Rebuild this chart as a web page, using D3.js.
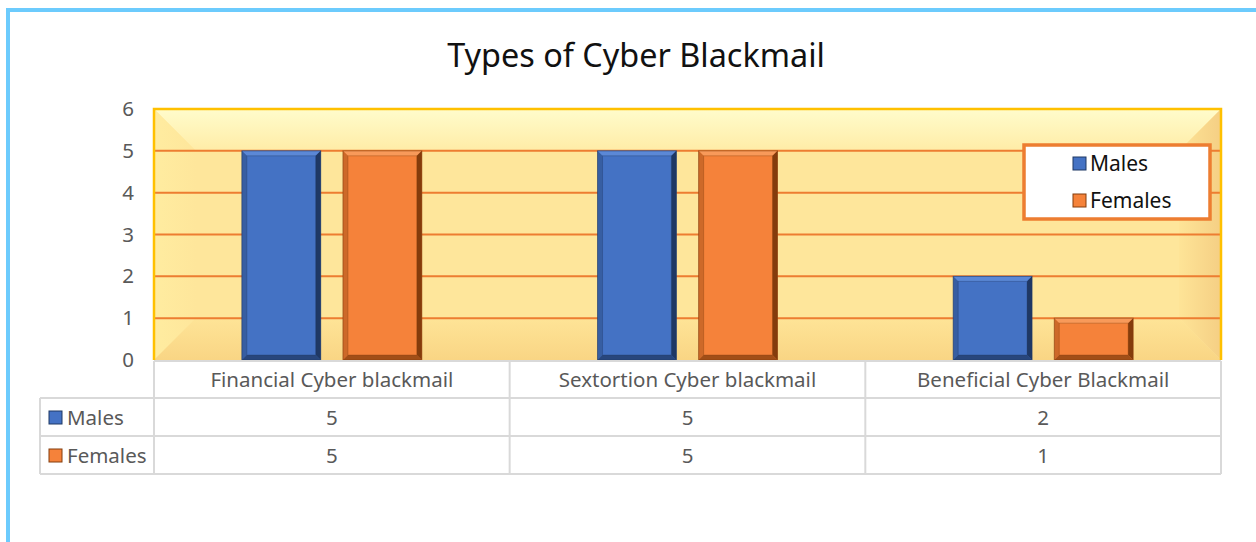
<!DOCTYPE html>
<html>
<head>
<meta charset="utf-8">
<script src="https://cdn.jsdelivr.net/npm/d3@7"></script>
<style>
  body { margin: 0; background: #fff; }
  text { font-family: "Noto Sans", "Open Sans", sans-serif; }
</style>
</head>
<body>
<div id="chart"></div>
<script>
// chart data
var categories = ["Financial Cyber blackmail", "Sextortion Cyber blackmail", "Beneficial Cyber Blackmail"];
var seriesNames = ["Males", "Females"];
var males = [5, 5, 2];
var females = [5, 5, 1];
var yTicks = [0, 1, 2, 3, 4, 5, 6];

var seriesValues = [males, females];
var colors = { Males: "#4472c4", Females: "#f5823a" };
var darks = { Males: "#1f3864", Females: "#843c0c" };
var lights = { Males: "#5b88d6", Females: "#f89a5a" };

var W = 1256, H = 542;
var plot = { left: 154, right: 1221, top: 109, bottom: 360 };
var rowH = [37, 38, 38];
var fs = 20.5;

var svg = d3.select("#chart").append("svg")
    .attr("width", W)
    .attr("height", H);

var defs = svg.append("defs");
function grad(id, x2, y2, stops) {
    var g = defs.append("linearGradient").attr("id", id)
        .attr("x1", 0).attr("y1", 0).attr("x2", x2).attr("y2", y2);
    stops.forEach(function(s) {
        g.append("stop").attr("offset", s[0]).attr("stop-color", s[1]);
    });
}
grad("topBand", 0, 1, [[0, "#fffccc"], [1, "#ffeca6"]]);
grad("leftBand", 1, 0, [[0, "#ffeca0"], [1, "#fee69b"]]);
grad("botBand", 0, 1, [[0, "#fee497"], [1, "#f9d584"]]);
grad("rightBand", 1, 0, [[0, "#fee497"], [1, "#f5cf84"]]);

// outer frame
svg.append("rect")
    .attr("x", 8).attr("y", 10)
    .attr("width", W + 20).attr("height", H + 20)
    .attr("fill", "none")
    .attr("stroke", "#6ccbfd")
    .attr("stroke-width", 4);

// title
svg.append("text")
    .attr("x", 636).attr("y", 67)
    .attr("text-anchor", "middle")
    .attr("font-size", 32.4)
    .attr("fill", "#111")
    .text("Types of Cyber Blackmail");

// scales
var y = d3.scaleLinear().domain([0, 6]).range([plot.bottom, plot.top]);
var x0 = d3.scaleBand().domain(categories).range([plot.left, plot.right]);
var groupW = x0.bandwidth() * 0.506;
var x1 = d3.scaleBand().domain(seriesNames).range([0, groupW]).paddingInner(0.22);

// plot background with bevelled frame
var pw = plot.right - plot.left, ph = plot.bottom - plot.top, bv = 42;
var bg = svg.append("g");
bg.append("rect").attr("x", plot.left).attr("y", plot.top)
    .attr("width", pw).attr("height", ph).attr("fill", "#fee69b");
function poly(pts, fill) {
    bg.append("polygon").attr("points", pts.map(function(p) { return p.join(","); }).join(" ")).attr("fill", fill);
}
var L = plot.left, R = plot.right, T = plot.top, B = plot.bottom;
poly([[L, T], [R, T], [R - bv, T + bv], [L + bv, T + bv]], "url(#topBand)");
poly([[L, T], [L + bv, T + bv], [L + bv, B - bv], [L, B]], "url(#leftBand)");
poly([[L, B], [L + bv, B - bv], [R - bv, B - bv], [R, B]], "url(#botBand)");
poly([[R, T], [R, B], [R - bv, B - bv], [R - bv, T + bv]], "url(#rightBand)");

// gridlines
svg.append("g").selectAll("line")
    .data(yTicks.filter(function(d) { return d > 0 && d < 6; }))
    .enter().append("line")
    .attr("x1", plot.left).attr("x2", plot.right)
    .attr("y1", function(d) { return y(d); })
    .attr("y2", function(d) { return y(d); })
    .attr("stroke", "#ed7d31")
    .attr("stroke-width", 2);

// plot border (top, left, right)
svg.append("path")
    .attr("d", "M" + L + "," + B + "V" + T + "H" + R + "V" + B)
    .attr("fill", "none")
    .attr("stroke", "#ffc000")
    .attr("stroke-width", 2.5);

// y tick labels
svg.append("g").selectAll("text")
    .data(yTicks)
    .enter().append("text")
    .attr("x", 134)
    .attr("y", function(d) { return y(d) + 7; })
    .attr("text-anchor", "end")
    .attr("font-size", fs)
    .attr("fill", "#595959")
    .text(function(d) { return d; });

// bars
var barData = [];
categories.forEach(function(c, i) {
    seriesNames.forEach(function(s, j) {
        barData.push({ cat: c, series: s, value: seriesValues[j][i] });
    });
});

function bevelBar(g, bx, by, bw, bh, s) {
    var e = 5;
    g.append("rect").attr("x", bx).attr("y", by).attr("width", bw).attr("height", bh)
        .attr("fill", colors[s]);
    var pts = function(a) { return a.map(function(p) { return p.join(","); }).join(" "); };
    var r = bx + bw, b = by + bh;
    g.append("polygon").attr("points", pts([[bx, by], [r, by], [r - e, by + e], [bx + e, by + e]]))
        .attr("fill", lights[s]);
    g.append("polygon").attr("points", pts([[bx, by], [bx + e, by + e], [bx + e, b - e], [bx, b]]))
        .attr("fill", darks[s]).attr("opacity", 0.35);
    g.append("polygon").attr("points", pts([[r, by], [r, b], [r - e, b - e], [r - e, by + e]]))
        .attr("fill", darks[s]);
    g.append("polygon").attr("points", pts([[bx, b], [bx + e, b - e], [r - e, b - e], [r, b]]))
        .attr("fill", darks[s]).attr("opacity", 0.75);
    g.append("rect").attr("x", bx + e).attr("y", by + e).attr("width", bw - 2 * e).attr("height", bh - 2 * e)
        .attr("fill", "none").attr("stroke", darks[s]).attr("stroke-opacity", 0.35).attr("stroke-width", 1);
    g.append("rect").attr("x", bx).attr("y", by).attr("width", bw).attr("height", bh)
        .attr("fill", "none").attr("stroke", darks[s]).attr("stroke-opacity", 0.6).attr("stroke-width", 1);
}

var barsG = svg.append("g");
barData.forEach(function(d) {
    var bx = x0(d.cat) + (x0.bandwidth() - groupW) / 2 + x1(d.series);
    var by = y(d.value);
    bevelBar(barsG, bx, by, x1.bandwidth(), y(0) - by, d.series);
});

// legend
var leg = svg.append("g");
leg.append("rect")
    .attr("x", 1024).attr("y", 145)
    .attr("width", 186).attr("height", 74)
    .attr("fill", "#fff")
    .attr("stroke", "#ed7d31")
    .attr("stroke-width", 3.5);
seriesNames.forEach(function(s, i) {
    var ly = 163 + i * 37;
    leg.append("rect").attr("x", 1073).attr("y", ly - 6).attr("width", 13).attr("height", 13)
        .attr("fill", colors[s]).attr("stroke", darks[s]).attr("stroke-width", 1);
    leg.append("text").attr("x", 1090).attr("y", ly + 8)
        .attr("font-size", 21).attr("fill", "#111").text(s);
});

// data table
var tbl = svg.append("g");
var tLeft = 40;
var rowY = [plot.bottom + 1];
rowY.push(rowY[0] + rowH[0]);
rowY.push(rowY[1] + rowH[1]);
rowY.push(rowY[2] + rowH[2]);
var gridColor = "#d9d9d9";

// horizontal lines
tbl.append("line").attr("x1", plot.left).attr("x2", plot.right)
    .attr("y1", rowY[0]).attr("y2", rowY[0]).attr("stroke", gridColor).attr("stroke-width", 2);
[1, 2, 3].forEach(function(k) {
    tbl.append("line").attr("x1", tLeft).attr("x2", plot.right)
        .attr("y1", rowY[k]).attr("y2", rowY[k]).attr("stroke", gridColor).attr("stroke-width", 2);
});
// vertical lines
var vx = [plot.left].concat(categories.map(function(c) { return x0(c) + x0.bandwidth(); }));
vx.forEach(function(v) {
    tbl.append("line").attr("x1", v).attr("x2", v)
        .attr("y1", rowY[0]).attr("y2", rowY[3]).attr("stroke", gridColor).attr("stroke-width", 2);
});
tbl.append("line").attr("x1", tLeft).attr("x2", tLeft)
    .attr("y1", rowY[1]).attr("y2", rowY[3]).attr("stroke", gridColor).attr("stroke-width", 2);

// header texts
categories.forEach(function(c) {
    tbl.append("text").attr("x", x0(c) + x0.bandwidth() / 2).attr("y", rowY[0] + 26)
        .attr("text-anchor", "middle").attr("font-size", fs).attr("fill", "#595959").text(c);
});
// row texts
seriesNames.forEach(function(s, j) {
    var ry = rowY[j + 1];
    tbl.append("rect").attr("x", 49).attr("y", ry + 13).attr("width", 13).attr("height", 13)
        .attr("fill", colors[s]).attr("stroke", darks[s]).attr("stroke-width", 1);
    tbl.append("text").attr("x", 67).attr("y", ry + 27)
        .attr("font-size", fs).attr("fill", "#595959").text(s);
    categories.forEach(function(c, i) {
        tbl.append("text").attr("x", x0(c) + x0.bandwidth() / 2).attr("y", ry + 27)
            .attr("text-anchor", "middle").attr("font-size", fs).attr("fill", "#595959")
            .text(seriesValues[j][i]);
    });
});
</script>
</body>
</html>
